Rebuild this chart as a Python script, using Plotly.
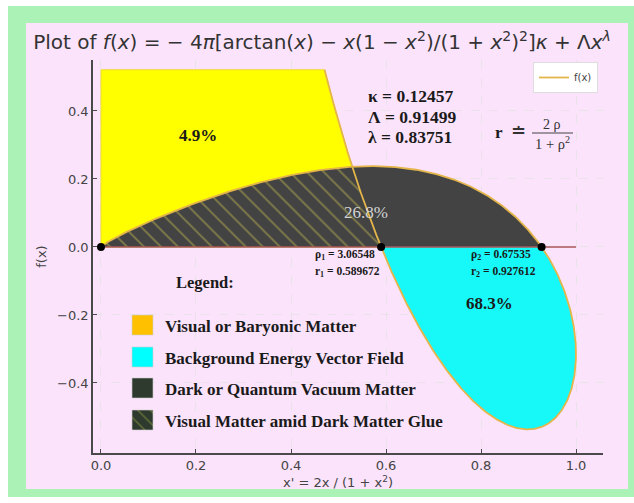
import numpy as np
import plotly.graph_objects as go

# Model constants shown on the chart
KAPPA = 0.12457
LAMBDA_CAP = 0.91499
LAMBDA = 0.83751
X_END = 4.0  # upper end of the x parameter range

# Roots of f and their images x' = 2ρ/(1+ρ²)
RHO = [3.06548, 0.67535]
R = [0.589672, 0.927612]

# Region shares
SHARE_VISUAL = "4.9%"
SHARE_DARK = "26.8%"
SHARE_ENERGY = "68.3%"

LEGEND_LABELS = [
    "Visual or Baryonic Matter",
    "Background Energy Vector Field",
    "Dark or Quantum Vacuum Matter",
    "Visual Matter amid Dark Matter Glue",
]
LEGEND_COLORS = ["#ffc000", "#00ffff", "#2f3a2f", "#2f3a2f"]

X_TICKS = [0.0, 0.2, 0.4, 0.6, 0.8, 1.0]
Y_TICKS = [-0.4, -0.2, 0.0, 0.2, 0.4]
X_RANGE = [-0.0168, 1.0568]
Y_RANGE = [-0.606, 0.55]

W, H = 634, 503
PL, PR, PT, PB = 93, 603, 60, 453

YELLOW = "#ffff00"
CYAN = "#17f9f9"
DARK = "#434343"
HATCH = "#c4bb50"
CURVE = "#e3b54a"
ZERO_LINE = "#a85858"
SERIF = "Liberation Serif"
SANS = "DejaVu Sans"


def f(x):
    return (-4 * np.pi * (np.arctan(x) - x * (1 - x**2) / (1 + x**2) ** 2) * KAPPA
            + LAMBDA_CAP * x**LAMBDA)


def xp(x):
    return 2 * x / (1 + x**2)


# pixel -> paper / data helpers for decorations
def pxx(px):
    return (px - PL) / (PR - PL)


def pyy(py):
    return (PB - py) / (PB - PT)


def dx(px):
    return X_RANGE[0] + pxx(px) * (X_RANGE[1] - X_RANGE[0])


def dy(py):
    return Y_RANGE[0] + pyy(py) * (Y_RANGE[1] - Y_RANGE[0])


# three branches of the parametric curve (x', f(x))
t_dome = np.linspace(0.0, RHO[1], 300)
t_loop = np.concatenate([np.linspace(RHO[1], 1.0, 200), np.linspace(1.0, RHO[0], 400)[1:]])
t_diag = np.linspace(RHO[0], X_END, 300)

dome_x, dome_y = xp(t_dome), f(t_dome)
loop_x, loop_y = xp(t_loop), f(t_loop)
diag_x, diag_y = xp(t_diag), f(t_diag)

# where the rising branch crosses the dome
gap = diag_y - np.interp(diag_x, dome_x, dome_y)
k = np.argmax(gap > 0)
fr = gap[k - 1] / (gap[k - 1] - gap[k])
cross_x = diag_x[k - 1] + fr * (diag_x[k] - diag_x[k - 1])
cross_y = diag_y[k - 1] + fr * (diag_y[k] - diag_y[k - 1])

fig = go.Figure()

# visual (baryonic) region
yel_x = np.concatenate([[0.0, 0.0], diag_x[::-1], [0.0]])
yel_y = np.concatenate([[0.0, diag_y[-1]], diag_y[::-1], [0.0]])
fig.add_trace(go.Scatter(x=yel_x, y=yel_y, fill="toself", fillcolor=YELLOW,
                         mode="lines", line=dict(color="#f0da3a", width=1),
                         hoverinfo="skip", showlegend=False))

# background energy loop
fig.add_trace(go.Scatter(x=np.append(loop_x, loop_x[0]), y=np.append(loop_y, 0.0),
                         fill="toself", fillcolor=CYAN, mode="lines",
                         line=dict(width=0), hoverinfo="skip", showlegend=False))

# dark dome
fig.add_trace(go.Scatter(x=np.append(dome_x, 0.0), y=np.append(dome_y, 0.0),
                         fill="toself", fillcolor=DARK, mode="lines",
                         line=dict(width=0), hoverinfo="skip", showlegend=False))

# hatched overlap: dome left of the rising branch
m = dome_x <= cross_x
seg_x = diag_x[diag_x >= cross_x]
seg_y = diag_y[diag_x >= cross_x]
order = np.argsort(seg_x)
hat_x = np.concatenate([dome_x[m], [cross_x], seg_x[order], [0.0]])
hat_y = np.concatenate([dome_y[m], [cross_y], seg_y[order], [0.0]])
fig.add_trace(go.Scatter(x=hat_x, y=hat_y, fill="toself", fillcolor=DARK,
                         fillpattern=dict(shape="\\", fgcolor=HATCH, bgcolor=DARK,
                                          size=12, solidity=0.14),
                         mode="lines", line=dict(width=0),
                         hoverinfo="skip", showlegend=False))

# zero line
fig.add_trace(go.Scatter(x=[0.0, 1.0], y=[0.0, 0.0], mode="lines",
                         line=dict(color=ZERO_LINE, width=1.5),
                         hoverinfo="skip", showlegend=False))

# the curve itself
all_t = np.concatenate([t_dome, t_loop[1:], t_diag[1:]])
fig.add_trace(go.Scatter(x=xp(all_t), y=f(all_t), mode="lines",
                         line=dict(color=CURVE, width=1.8), name="f(x)"))

# roots
fig.add_trace(go.Scatter(x=[0.0, R[0], R[1]], y=[0.0, 0.0, 0.0], mode="markers",
                         marker=dict(color="black", size=8),
                         hoverinfo="skip", showlegend=False))

# hand-drawn legend patches
patch_rows = [325, 357, 388, 420]
for i, (lab, col) in enumerate(zip(LEGEND_LABELS, LEGEND_COLORS)):
    cy = patch_rows[i]
    x0, x1, y0, y1 = dx(132), dx(153), dy(cy + 10), dy(cy - 10)
    extra = {}
    if i == 3:
        extra["fillpattern"] = dict(shape="\\", fgcolor="#9aa840", bgcolor=col,
                                    size=9, solidity=0.16)
    fig.add_trace(go.Scatter(x=[x0, x1, x1, x0, x0], y=[y0, y0, y1, y1, y0],
                             fill="toself", fillcolor=col, mode="lines",
                             line=dict(color="#cfcfcf", width=0.6),
                             hoverinfo="skip", showlegend=False, **extra))

ann = []


def text(px, py, s, size, color="#1a1a1a", family=SERIF, xanchor="center"):
    ann.append(dict(xref="paper", yref="paper", x=pxx(px), y=pyy(py), text=s,
                    showarrow=False, xanchor=xanchor, yanchor="middle",
                    font=dict(family=family, size=size, color=color)))


text(198, 135, f"<b>{SHARE_VISUAL}</b>", 17)
text(366, 212, SHARE_DARK, 17, color="#d4d4d4")
text(489, 303, f"<b>{SHARE_ENERGY}</b>", 17)

text(366, 96, f"<b>κ = {KAPPA}</b>", 17.5, xanchor="left")
text(366, 117, f"<b>Λ = {LAMBDA_CAP}</b>", 17.5, xanchor="left")
text(366, 137, f"<b>λ = {LAMBDA}</b>", 17.5, xanchor="left")

text(499, 132, "<b>r</b>", 17)
text(518, 131, "≐", 18, color="#333")
text(552, 124, "2 ρ", 14, color="#333")
text(552, 143, "1 + ρ<sup>2</sup>", 14.5, color="#333")

text(313, 255, f"<b>ρ<sub>1</sub> = {RHO[0]}</b>", 11.5, xanchor="left")
text(313, 272, f"<b>r<sub>1</sub> = {R[0]}</b>", 11.5, xanchor="left")
text(469, 255, f"<b>ρ<sub>2</sub> = {RHO[1]}</b>", 11.5, xanchor="left")
text(469, 272, f"<b>r<sub>2</sub> = {R[1]}</b>", 11.5, xanchor="left")

text(205, 282, "<b>Legend:</b>", 16.5)
for i, lab in enumerate(LEGEND_LABELS):
    text(163, patch_rows[i] + 1, f"<b>{lab}</b>", 17, xanchor="left")

# x-axis caption
text(338, 482, "x' = 2x / (1 + x<sup>2</sup>)", 13, color="#444", family=SANS)

shapes = [
    # frame: green border and pink panel
    dict(type="rect", xref="paper", yref="paper", x0=pxx(8), x1=pxx(640),
         y0=pyy(497), y1=pyy(6), fillcolor="#abf2b7", line=dict(width=0), layer="below"),
    dict(type="rect", xref="paper", yref="paper", x0=pxx(26), x1=pxx(628),
         y0=pyy(489), y1=pyy(23), fillcolor="#fbe3fb", line=dict(width=0), layer="below"),
    # fraction bar
    dict(type="line", xref="paper", yref="paper", x0=pxx(532), x1=pxx(573),
         y0=pyy(133), y1=pyy(133), line=dict(color="#444", width=1)),
]

axis_common = dict(
    showline=True, linecolor="#4a4a4a", linewidth=1.5, ticks="inside", ticklen=4,
    tickcolor="#4a4a4a", zeroline=False, showgrid=True,
    gridcolor="rgba(225,225,225,0.7)", griddash="dash", gridwidth=1,
    layer="above traces", tickfont=dict(family=SANS, size=13, color="#444"),
    tickformat=".1f",
)

fig.update_layout(
    width=W, height=H, autosize=False,
    margin=dict(l=PL, r=W - PR, t=PT, b=H - PB),
    paper_bgcolor="white", plot_bgcolor="rgba(0,0,0,0)",
    title=dict(
        text="Plot of <i>f</i>(<i>x</i>) = − 4<i>π</i>[arctan(<i>x</i>) − <i>x</i>(1 − <i>x</i><sup>2</sup>)"
             "/(1 + <i>x</i><sup>2</sup>)<sup>2</sup>]<i>κ</i> + Λ<i>x</i><sup><i>λ</i></sup>",
        x=322 / W, y=1 - 42 / H, xref="container", yref="container",
        xanchor="center", yanchor="middle",
        font=dict(family=SANS, size=20, color="#333"),
    ),
    xaxis=dict(range=X_RANGE, tickvals=X_TICKS, **axis_common),
    yaxis=dict(range=Y_RANGE, tickvals=Y_TICKS,
               title=dict(text="f(x)", standoff=8, font=dict(family=SANS, size=13, color="#444")),
               **axis_common),
    legend=dict(x=pxx(598), y=pyy(62), xanchor="right", yanchor="top",
                bgcolor="white", bordercolor="#dddddd", borderwidth=1,
                font=dict(family=SANS, size=10, color="#444"), itemwidth=30),
    annotations=ann,
    shapes=shapes,
)

fig.write_html("out.html")
